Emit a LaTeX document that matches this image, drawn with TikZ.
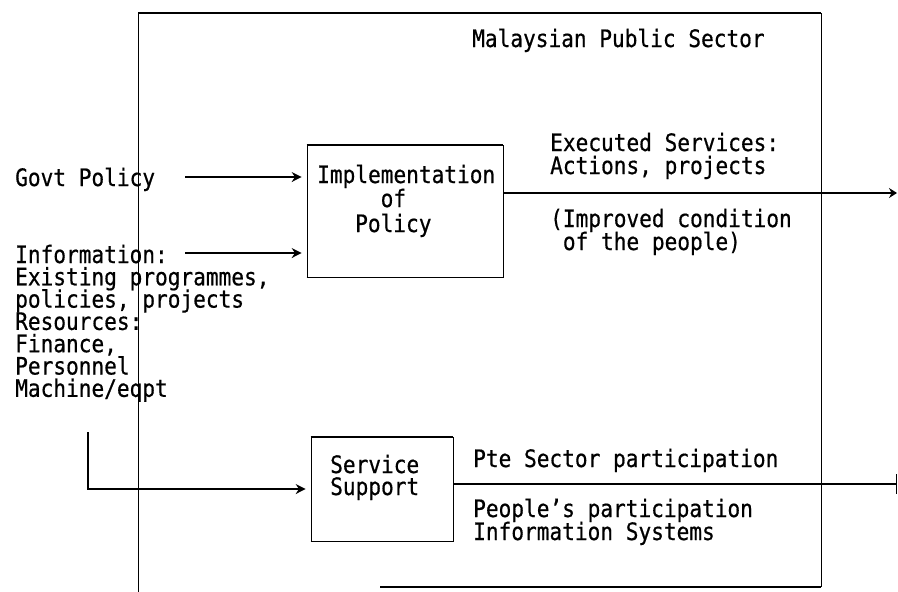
\documentclass[tikz,border=0pt]{standalone}
\usepackage{fontspec}
\newfontfamily\dm[FakeStretch=0.88,FakeBold=0.6]{DejaVu Sans Mono}
\usetikzlibrary{arrows.meta}
\tikzset{
  txt/.style={anchor=base west, inner sep=0pt, font=\dm\fontsize{24}{24}\selectfont},
  boxv/.style={draw, line width=0.6pt, inner sep=0pt},
  edgeh/.style={line width=1.2pt},
  frame/.style={line width=0.6pt},
  conn/.style={line width=1.1pt},
  inarrow/.style={conn, -{Stealth[length=10pt,width=10pt]}, shorten >=5pt},
}
\begin{document}
\begin{tikzpicture}[x=1pt,y=-1pt]
\useasboundingbox (0,0) rectangle (898,592);
% outer frame (Malaysian Public Sector)
\coordinate (fTL) at (138,13);
\coordinate (fTR) at (821,13);
\coordinate (fBR) at (821,587);
\coordinate (fBL) at (138,592);
\coordinate (fB0) at (380,587);
\draw[frame] (fTL) -- (fBL);
\draw[frame] (fTR) -- (fBR);
\draw[edgeh] (fTL) -- (fTR);
\draw[edgeh] (fBR) -- (fB0);
\node[txt] (title) at (472,47) {Malaysian Public Sector};

% boxes
\node[boxv, minimum width=196pt, minimum height=132pt] (impl) at (405,211) {};
\draw[edgeh] (impl.north west) -- (impl.north east);
\draw[edgeh] (impl.south west) -- (impl.south east);
\node[txt] (i1) at (317,183) {Implementation};
\node[txt] (i2) at (380.5,207) {of};
\node[txt] (i3) at (355,232) {Policy};

\node[boxv, minimum width=142pt, minimum height=104pt] (serv) at (382,489) {};
\draw[edgeh] (serv.north west) -- (serv.north east);
\draw[edgeh] (serv.south west) -- (serv.south east);
\node[txt] (s1) at (330,473) {Service};
\node[txt] (s2) at (330,495) {Support};

% left texts
\node[txt] (govt) at (15,186) {Govt Policy};
\node[txt] (l1) at (15,263) {Information:};
\node[txt] (l2) at (15,285.3) {Existing programmes,};
\node[txt] (l3) at (15,307.6) {policies, projects};
\node[txt] (l4) at (15,329.9) {Resources:};
\node[txt] (l5) at (15,352.2) {Finance,};
\node[txt] (l6) at (15,374.5) {Personnel};
\node[txt] (l7) at (15,396.8) {Machine/eqpt};

% right texts
\node[txt] (e1) at (550,151) {Executed Services:};
\node[txt] (e2) at (550,174) {Actions, projects};
\node[txt] (e3) at (550,227) {(Improved condition};
\node[txt] (e4) at (562.7,250) {of the people)};
\node[txt] (p1) at (473,467) {Pte Sector participation};
\node[txt] (p2) at (473,517) {People’s participation};
\node[txt] (p3) at (473,540) {Information Systems};

% input arrows
\coordinate (ga) at (185,177);
\coordinate (ia) at (185,253);
\coordinate (ra) at (88,432);
\draw[inarrow] (ga) -- (ga -| impl.west);
\draw[inarrow] (ia) -- (ia -| impl.west);
\draw[inarrow] (ra) |- (serv.west);

% output lines
\coordinate (oa) at (897,193);
\coordinate (ob) at (897,484);
\draw[conn, -{Stealth[length=8pt,width=10pt]}] (oa -| impl.east) -- (oa);
\draw[conn, -{Bar[width=20pt,line width=1.4pt]}] (ob -| serv.east) -- (ob);
\end{tikzpicture}
\end{document}
